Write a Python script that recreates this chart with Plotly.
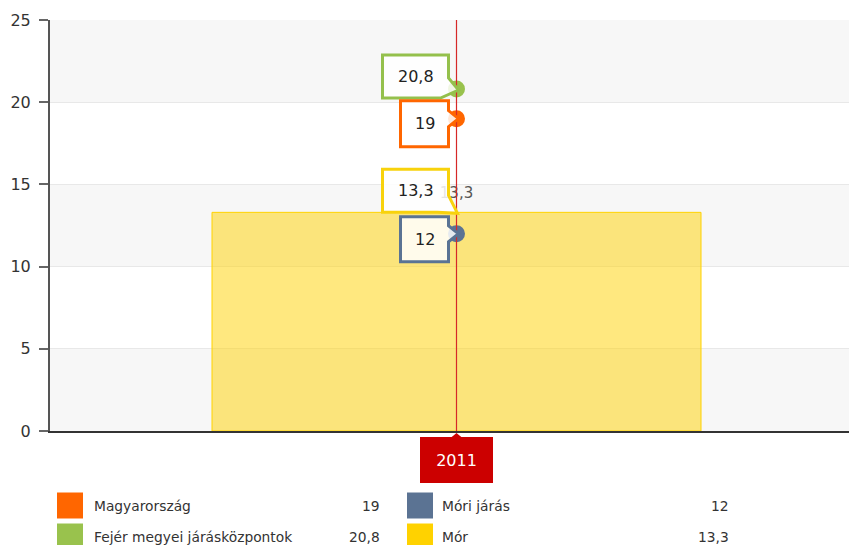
import plotly.graph_objects as go

# ---- data ----
year_label = "2011"
series_names = ["Magyarország", "Fejér megyei járásközpontok", "Móri járás", "Mór"]
series_values = [19, 20.8, 12, 13.3]
series_colors = ["#ff6600", "#99c24d", "#5b7393", "#ffd200"]
y_ticks = [0, 5, 10, 15, 20, 25]

W, H = 849, 545
ML, MR, MT, MB = 50, 0, 20, 114
PW, PH = W - ML - MR, H - MT - MB
FONT = "DejaVu Sans, Verdana, sans-serif"


def fmt(v):
    return f"{v:g}".replace(".", ",")


def px_x(px):
    return (px - ML) / PW


def px_y(py):
    return (H - MB - py) / PH


fig = go.Figure()

# Mór shown as the column
bar_idx = 3
fig.add_trace(go.Bar(
    x=[0], y=[series_values[bar_idx]], width=1,
    marker=dict(color="rgba(255,210,0,0.5)", line=dict(color="#ffd200", width=1)),
    hoverinfo="skip", showlegend=False,
))
# column value label
fig.add_trace(go.Scatter(
    x=[0], y=[series_values[bar_idx]], mode="markers+text",
    marker=dict(size=16, opacity=0), text=[fmt(series_values[bar_idx])],
    textposition="top center", textfont=dict(family=FONT, size=15, color="#555555"),
    hoverinfo="skip", showlegend=False,
))
# other series as point markers
for i in range(3):
    fig.add_trace(go.Scatter(
        x=[0], y=[series_values[i]], mode="markers",
        marker=dict(size=17, color=series_colors[i]),
        hoverinfo="skip", showlegend=False,
    ))

shapes = []
# alternating horizontal bands
for k in range(0, 25, 10):
    shapes.append(dict(type="rect", xref="paper", yref="y", x0=0, x1=1, y0=k, y1=k + 5,
                       fillcolor="#f7f7f7", line=dict(width=0), layer="below"))

# crosshair
shapes.append(dict(type="line", xref="x", yref="paper", x0=0, x1=0, y0=0, y1=1,
                   line=dict(color="#d62828", width=1.2)))

# callout outlines (pixel offsets from each point, y up)
callout_paths = {
    1: [(-74, 34), (-8, 34), (-8, 11), (2, -1), (-16, -9), (-74, -9)],
    0: [(-56, 18), (-8, 18), (-8, 8), (2, 0), (-8, -8), (-8, -28), (-56, -28)],
    2: [(-56, 17), (-8, 17), (-8, 8), (2, 0), (-8, -8), (-8, -28), (-56, -28)],
    3: [(-74, 43), (-8, 43), (-8, 17), (1, -1), (-19, 0), (-74, 0)],
}
callout_text_pos = {1: (-41, 12.5), 0: (-32, -5), 2: (-32, -5.5), 3: (-41, 21.5)}
border_colors = {0: "#ff6600", 1: "#94c04c", 2: "#5a7394", 3: "#f8d20c"}

annotations = []
for i, pts in callout_paths.items():
    path = "M " + " L ".join(f"{dx},{dy}" for dx, dy in pts) + " Z"
    shapes.append(dict(type="path", xref="x", yref="y", xsizemode="pixel", ysizemode="pixel",
                       xanchor=0, yanchor=series_values[i], path=path,
                       fillcolor="rgba(255,255,255,0.85)",
                       line=dict(color=border_colors[i], width=3)))
    tx, ty = callout_text_pos[i]
    annotations.append(dict(x=0, y=series_values[i], xref="x", yref="y", xshift=tx, yshift=ty,
                            text=fmt(series_values[i]), showarrow=False,
                            font=dict(family=FONT, size=16, color="#222222")))

# category label under the crosshair
shapes.append(dict(type="path", xref="x", yref="paper", xsizemode="pixel", ysizemode="pixel",
                   xanchor=0, yanchor=0, path="M -6,-7 L 0,-2 L 6,-7 Z",
                   fillcolor="#cc0000", line=dict(width=0)))
annotations.append(dict(x=0, y=0, xref="x", yref="paper", yanchor="top", yshift=-6,
                        text=year_label, showarrow=False, width=67, height=40,
                        bgcolor="#cc0000", bordercolor="#cc0000", borderwidth=2,
                        font=dict(family=FONT, size=16, color="#ffffff")))

# custom legend: two columns, name and value per entry
legend_cols = [(57, 92, 382), (407, 440, 731)]
legend_rows = [505.5, 536.5]
legend_order = [(0, 0, 0), (1, 0, 1), (2, 1, 0), (3, 1, 1)]  # series, col, row
for s, c, r in legend_order:
    sq_x, txt_x, val_x = legend_cols[c]
    cy = legend_rows[r]
    shapes.append(dict(type="rect", xref="paper", yref="paper",
                       x0=px_x(sq_x), x1=px_x(sq_x + 26), y0=px_y(cy + 13), y1=px_y(cy - 13),
                       fillcolor=series_colors[s], line=dict(width=0)))
    annotations.append(dict(x=px_x(txt_x), y=px_y(cy), xref="paper", yref="paper",
                            xanchor="left", yanchor="middle", text=series_names[s],
                            showarrow=False, font=dict(family=FONT, size=13.8, color="#333333")))
    annotations.append(dict(x=px_x(val_x), y=px_y(cy), xref="paper", yref="paper",
                            xanchor="right", yanchor="middle", text=fmt(series_values[s]),
                            showarrow=False, font=dict(family=FONT, size=13.8, color="#333333")))

fig.update_layout(
    width=W, height=H,
    margin=dict(l=ML, r=MR, t=MT, b=MB),
    paper_bgcolor="#ffffff", plot_bgcolor="#ffffff",
    showlegend=False,
    shapes=shapes, annotations=annotations,
    xaxis=dict(range=[-406.5 / 489, 392.5 / 489], showticklabels=False, ticks="",
               showgrid=False, zeroline=False, showline=True, linecolor="#333333",
               linewidth=2, fixedrange=True),
    yaxis=dict(range=[0, 25], tickvals=y_ticks, ticks="outside", ticklen=9,
               tickcolor="#666666", tickwidth=2, showline=True, linecolor="#555555",
               linewidth=2, gridcolor="#e8e8e8", zeroline=False, ticklabelstandoff=5,
               tickfont=dict(family=FONT, size=16, color="#333333"), fixedrange=True),
    font=dict(family=FONT),
)

fig.write_html("out.html", config={"displayModeBar": False})
